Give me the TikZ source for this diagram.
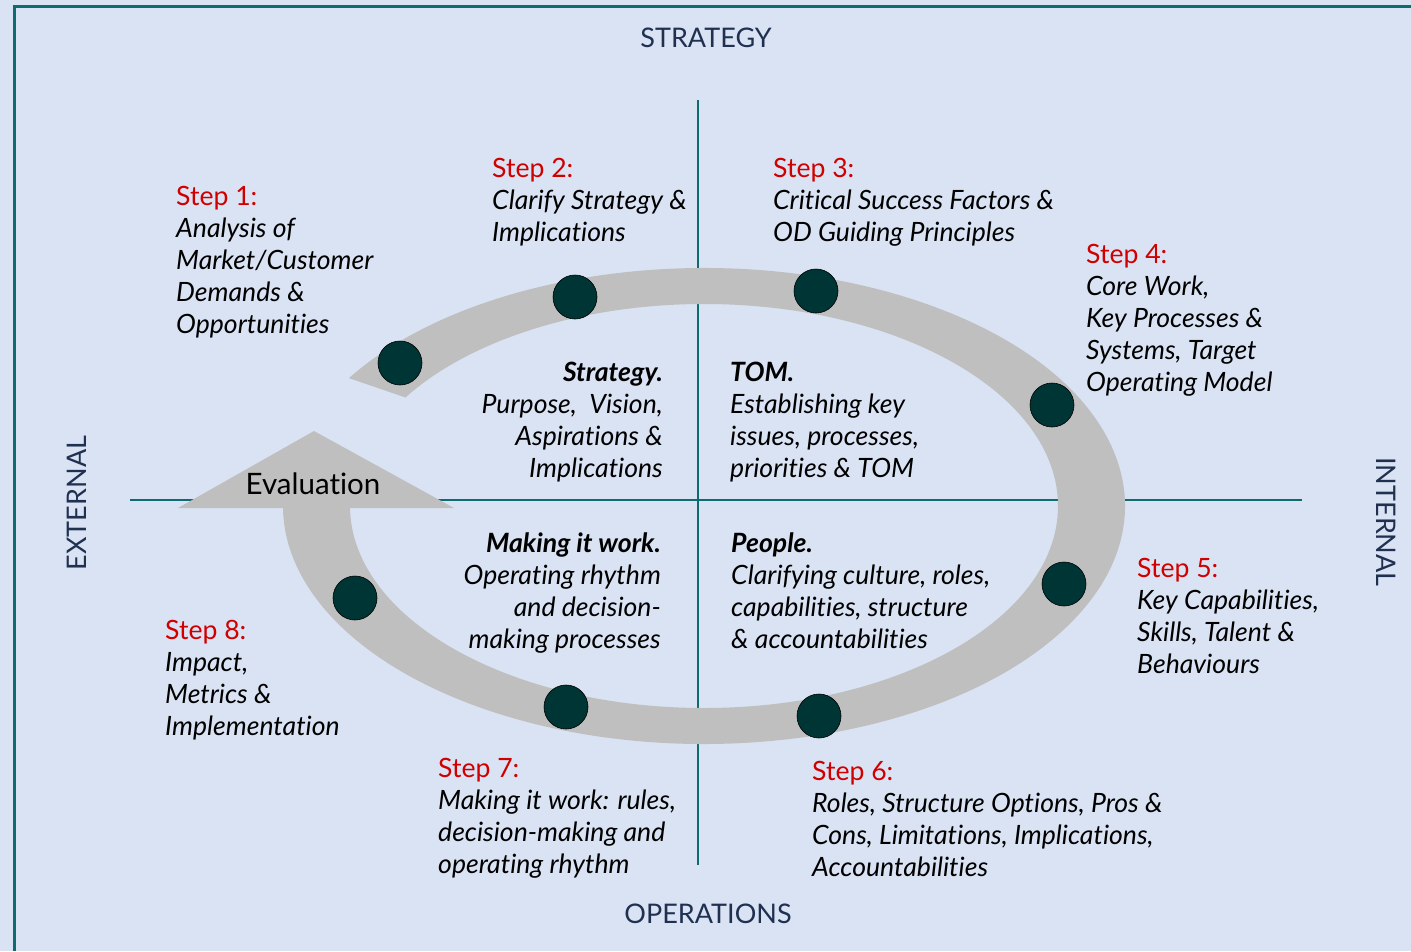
\documentclass[tikz,border=0pt]{standalone}
\usepackage{fontspec}
\setmainfont{Lato}[Ligatures=NoCommon]
\usepackage{array}
\definecolor{bgblue}{HTML}{DAE3F3}
\definecolor{teal2}{HTML}{0F6B6E}
\definecolor{ringgray}{HTML}{BFBFBF}
\definecolor{dotcol}{HTML}{003535}
\definecolor{stepred}{HTML}{D00000}
\definecolor{navy}{HTML}{1F3050}
\tikzset{
  axisline/.style={draw=teal2, line width=2.5pt},
  dotnode/.style={circle, fill=dotcol, draw=black, line width=0.6pt, minimum size=44pt, inner sep=0pt},
  blk/.style={inner sep=0pt, font=\fontsize{26.6}{32}\selectfont},
  axislabel/.style={inner sep=0pt, text=navy, font=\fontsize{27}{30}\selectfont},
}
\newcommand{\stl}[1]{\upshape\textcolor{stepred}{#1}}
\begin{document}
\begin{tikzpicture}[x=1pt,y=-1pt]
\fill[bgblue] (0,0) rectangle (1411,951);
\useasboundingbox (0,0) rectangle (1411,951);
% frame
\coordinate (fbl) at (14,951);
\coordinate (ftl) at (14,6);
\coordinate (ftr) at (1411,6);
\draw[draw=teal2, line width=3pt] (fbl) -- (ftl) -- (ftr);
% cross
\coordinate (vt) at (698,100);
\coordinate (vb) at (698,865);
\coordinate (hl) at (130,500);
\coordinate (hr) at (1302,500);
\draw[axisline] (vt) -- (vb);
\draw[axisline] (hl) -- (hr);
% ring
\fill[ringgray] (704,506) ++(-147.5:421 and 238)
  arc[start angle=-147.5, end angle=180, x radius=421, y radius=238]
  -- ++(67,0)
  arc[start angle=180, end angle=-147.5, x radius=354, y radius=202] -- cycle;
\fill[ringgray] (178,508) -- (454,508) -- (314,431) -- cycle;
\node[inner sep=0pt, anchor=base, font=\fontsize{29.5}{34}\selectfont] (eval) at (313,494.5) {Evaluation};
% dots
\node[dotnode] (d1) at (400,363) {};
\node[dotnode] (d2) at (575,297) {};
\node[dotnode] (d3) at (816,291) {};
\node[dotnode] (d4) at (1052,405) {};
\node[dotnode] (d5) at (1064,584) {};
\node[dotnode] (d6) at (819,716) {};
\node[dotnode] (d7) at (566,707) {};
\node[dotnode] (d8) at (355,598) {};
% axis labels
\node[axislabel, anchor=base] (strat) at (706,47.5) {STRATEGY};
\node[axislabel, anchor=base] (ops) at (708,923) {OPERATIONS};
\node[axislabel, anchor=base, rotate=90] (ext) at (86,503) {EXTERNAL};
\node[axislabel, anchor=base, rotate=-90] (int) at (1376,522) {INTERNAL};
% steps
\node[blk, anchor=base west] (s1) at (176,205.5) {\begin{tabular}[t]{@{}>{\itshape}l@{}}\stl{Step 1:}\\Analysis of\\Market/Customer\\Demands \&\\Opportunities\end{tabular}};
\node[blk, anchor=base west] (s2) at (492,177.5) {\begin{tabular}[t]{@{}>{\itshape}l@{}}\stl{Step 2:}\\Clarify Strategy \&\\Implications\end{tabular}};
\node[blk, anchor=base west] (s3) at (773,177) {\begin{tabular}[t]{@{}>{\itshape}l@{}}\stl{Step 3:}\\Critical Success Factors \&\\OD Guiding Principles\end{tabular}};
\node[blk, anchor=base west] (s4) at (1086,263.5) {\begin{tabular}[t]{@{}>{\itshape}l@{}}\stl{Step 4:}\\Core Work,\\Key Processes \&\\Systems, Target\\Operating Model\end{tabular}};
\node[blk, anchor=base west] (s5) at (1137,577.7) {\begin{tabular}[t]{@{}>{\itshape}l@{}}\stl{Step 5:}\\Key Capabilities,\\Skills, Talent \&\\Behaviours\end{tabular}};
\node[blk, anchor=base west] (s6) at (812,780.5) {\begin{tabular}[t]{@{}>{\itshape}l@{}}\stl{Step 6:}\\Roles, Structure Options, Pros \&\\Cons, Limitations, Implications,\\Accountabilities\end{tabular}};
\node[blk, anchor=base west] (s7) at (438,777.5) {\begin{tabular}[t]{@{}>{\itshape}l@{}}\stl{Step 7:}\\Making it work: rules,\\decision-making and\\operating rhythm\end{tabular}};
\node[blk, anchor=base west] (s8) at (165,639.5) {\begin{tabular}[t]{@{}>{\itshape}l@{}}\stl{Step 8:}\\Impact,\\Metrics \&\\Implementation\end{tabular}};
% quadrants
\node[blk, anchor=base east] (q1) at (663,381) {\begin{tabular}[t]{@{}>{\itshape}r@{}}\textbf{Strategy.}\\Purpose,\ \ Vision,\\Aspirations \&\\Implications\end{tabular}};
\node[blk, anchor=base west] (q2) at (730,381) {\begin{tabular}[t]{@{}>{\itshape}l@{}}\textbf{TOM.}\\Establishing key\\issues, processes,\\priorities \& TOM\end{tabular}};
\node[blk, anchor=base east] (q3) at (661,552) {\begin{tabular}[t]{@{}>{\itshape}r@{}}\textbf{Making it work.}\\Operating rhythm\\and decision-\\making processes\end{tabular}};
\node[blk, anchor=base west] (q4) at (731,552) {\begin{tabular}[t]{@{}>{\itshape}l@{}}\textbf{People.}\\Clarifying culture, roles,\\capabilities, structure\\\& accountabilities\end{tabular}};
\end{tikzpicture}
\end{document}
